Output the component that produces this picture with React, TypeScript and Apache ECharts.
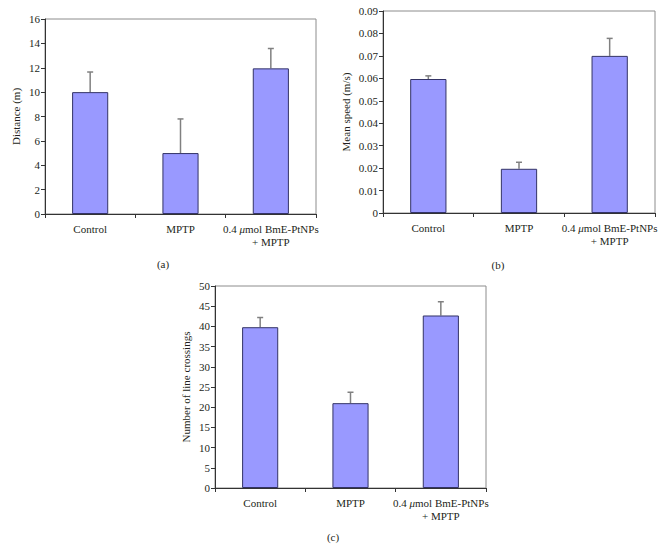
import React, { useEffect, useRef } from "react";
import * as echarts from "echarts";

const categories = ["Control", "MPTP", "0.4 μmol BmE-PtNPs\n+ MPTP"];

const distance = [10.0, 5.0, 11.95];
const distanceErr = [11.65, 7.8, 13.58];

const speed = [0.0597, 0.0197, 0.07];
const speedErr = [0.0611, 0.0226, 0.0778];

const crossings = [39.8, 21.0, 42.7];
const crossingsErr = [42.2, 23.7, 46.1];

const panelLabels = ["(a)", "(b)", "(c)"];
const yNames = ["Distance (m)", "Mean speed (m/s)", "Number of line crossings"];

const FONT = "'Liberation Serif', 'DejaVu Serif', serif";
const TXT = "#231f20";
const BAR = "#9999ff";
const BAR_BORDER = "#333366";
const ERR = "#808080";

export default function App() {
  const ref = useRef<HTMLDivElement | null>(null);

  useEffect(() => {
    if (!ref.current) return;
    const chart = echarts.init(ref.current, undefined, { renderer: "svg" });

    const grids = [
      { left: 45, top: 19, width: 271, height: 195 },
      { left: 383, top: 11, width: 272, height: 202 },
      { left: 215, top: 286, width: 271, height: 202 },
    ].map((g) => ({
      ...g,
      show: true,
      borderColor: "#8c8c8c",
      borderWidth: 1,
      backgroundColor: "transparent",
    }));

    const yCfg = [
      { max: 16, interval: 2, nameGap: 24 },
      { max: 0.09, interval: 0.01, nameGap: 32 },
      { max: 50, interval: 5, nameGap: 24 },
    ];

    const values = [distance, speed, crossings];
    const errs = [distanceErr, speedErr, crossingsErr];

    const xAxis = grids.map((_, i) => ({
      type: "category",
      gridIndex: i,
      data: categories,
      boundaryGap: true,
      axisLine: { lineStyle: { color: "#333", width: 1 } },
      axisTick: { show: true, length: 4, interval: 0, alignWithLabel: false, lineStyle: { color: "#333" } },
      axisLabel: {
        interval: 0,
        margin: 8,
        fontFamily: FONT,
        fontSize: 11,
        color: TXT,
        lineHeight: 13,
        formatter: (v: string) => v.replace("μ", "{i|μ}"),
        rich: {
          i: { fontStyle: "italic", fontFamily: FONT, fontSize: 11, color: TXT, lineHeight: 13 },
        },
      },
    }));

    const yAxis = grids.map((_, i) => ({
      type: "value",
      gridIndex: i,
      min: 0,
      max: yCfg[i].max,
      interval: yCfg[i].interval,
      name: yNames[i],
      nameLocation: "middle",
      nameGap: yCfg[i].nameGap,
      nameRotate: 90,
      nameTextStyle: { fontFamily: FONT, fontSize: 11, color: TXT },
      axisLine: { show: true, lineStyle: { color: "#333", width: 1 } },
      axisTick: { show: true, length: 4, lineStyle: { color: "#333" } },
      splitLine: { show: false },
      axisLabel: { fontFamily: FONT, fontSize: 11, color: TXT, margin: 5 },
    }));

    const series: any[] = [];
    values.forEach((vals, i) => {
      series.push({
        type: "bar",
        xAxisIndex: i,
        yAxisIndex: i,
        data: vals,
        barWidth: "40%",
        itemStyle: { color: BAR, borderColor: BAR_BORDER, borderWidth: 1 },
        z: 2,
      });
      series.push({
        type: "custom",
        xAxisIndex: i,
        yAxisIndex: i,
        data: vals.map((v, k) => [k, v, errs[i][k]]),
        encode: { x: 0, y: [1, 2] },
        z: 1,
        renderItem: (params: any, api: any) => {
          const idx = api.value(0);
          const lo = api.coord([idx, api.value(1)]);
          const hi = api.coord([idx, api.value(2)]);
          const style = { stroke: ERR, lineWidth: 1.5 };
          return {
            type: "group",
            children: [
              { type: "line", shape: { x1: lo[0], y1: lo[1], x2: hi[0], y2: hi[1] }, style },
              { type: "line", shape: { x1: hi[0] - 3, y1: hi[1], x2: hi[0] + 3, y2: hi[1] }, style },
            ],
          };
        },
      });
    });

    const labelPos = [
      [163, 264],
      [498, 265],
      [333, 537],
    ];

    chart.setOption({
      animation: false,
      backgroundColor: "#ffffff",
      grid: grids,
      xAxis,
      yAxis,
      series,
      graphic: panelLabels.map((t, i) => ({
        type: "text",
        x: labelPos[i][0],
        y: labelPos[i][1],
        style: {
          text: t,
          fontFamily: FONT,
          fontSize: 11,
          fill: TXT,
          textAlign: "center",
          textVerticalAlign: "middle",
        },
      })),
    });

    return () => chart.dispose();
  }, []);

  return (
    <div
      ref={ref}
      style={{ position: "fixed", left: 0, top: 0, width: 667, height: 549, background: "#fff" }}
    />
  );
}
